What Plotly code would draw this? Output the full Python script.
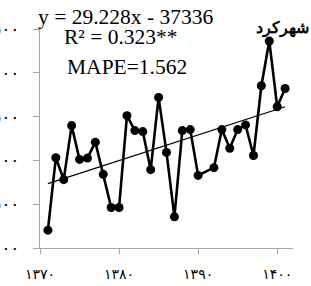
import plotly.graph_objects as go

years = [1371, 1372, 1373, 1374, 1375, 1376, 1377, 1378, 1379, 1380,
         1381, 1382, 1383, 1384, 1385, 1386, 1387, 1388, 1389, 1390,
         1392, 1393, 1394, 1395, 1396, 1397, 1398, 1399, 1400, 1401]
values = [2204, 3030, 2780, 3397, 3011, 3026, 3208, 2841, 2462, 2462,
          3511, 3340, 3329, 2894, 3719, 3091, 2356, 3340, 3352, 2829,
          2917, 3352, 3139, 3352, 3405, 3056, 3852, 4363, 3613, 3821]

slope = 29.228
intercept = -37336
trend_x = [1371, 1401]
trend_y = [slope * x + intercept for x in trend_x]

x_tickvals = [1370, 1380, 1390, 1400]
x_ticktext = ["۱۳۷۰", "۱۳۸۰", "۱۳۹۰", "۱۴۰۰"]
y_tickvals = [2000, 2500, 3000, 3500, 4000, 4500]
y_ticktext = ["۲۰۰۰", "۲۵۰۰", "۳۰۰۰", "۳۵۰۰", "۴۰۰۰", "۴۵۰۰"]

station = "شهرکرد"
eq_text = "y = 29.228x - 37336"
r2_text = "R² = 0.323**"
mape_text = "MAPE=1.562"

serif = "Liberation Serif, Times New Roman, serif"

fig = go.Figure()
fig.add_trace(go.Scatter(
    x=years, y=values, mode="lines+markers",
    line=dict(color="black", width=2.6),
    marker=dict(color="black", size=9),
    showlegend=False, hoverinfo="skip"))
fig.add_trace(go.Scatter(
    x=trend_x, y=trend_y, mode="lines",
    line=dict(color="black", width=1.3),
    showlegend=False, hoverinfo="skip"))

W, H = 311, 286
l, r, t, b = 40, 18, 29, 38
pw, ph = W - l - r, H - t - b


def px(x):
    return (x - l) / pw


def py(y):
    return (H - y - b) / ph


fig.update_layout(
    width=W, height=H,
    margin=dict(l=l, r=r, t=t, b=b),
    plot_bgcolor="white", paper_bgcolor="white",
    font=dict(family=serif, color="black"),
    xaxis=dict(range=[1370, 1402], tickvals=x_tickvals, ticktext=x_ticktext,
               showgrid=False, zeroline=False, showline=True, linecolor="#a6a6a6",
               linewidth=1.3, ticks="outside", ticklen=5, tickcolor="#a6a6a6",
               tickfont=dict(size=14, family="DejaVu Sans"), ticklabelstandoff=8,
               automargin=False),
    yaxis=dict(range=[2000, 4500], tickvals=y_tickvals, ticktext=y_ticktext,
               showgrid=False, zeroline=False, showline=True, linecolor="#a6a6a6",
               linewidth=1.3, ticks="outside", ticklen=6, tickcolor="#a6a6a6",
               tickfont=dict(size=17, family="DejaVu Sans"), ticklabelstandoff=10,
               automargin=False),
    annotations=[
        dict(text=eq_text, x=px(125), y=py(17), xref="paper", yref="paper",
             xanchor="center", yanchor="middle",
             showarrow=False, font=dict(size=21.5, family=serif)),
        dict(text=r2_text, x=px(121), y=py(37), xref="paper", yref="paper",
             xanchor="center", yanchor="middle",
             showarrow=False, font=dict(size=21.5, family=serif)),
        dict(text=mape_text, x=px(127), y=py(67), xref="paper", yref="paper",
             xanchor="center", yanchor="middle",
             showarrow=False, font=dict(size=21.5, family=serif)),
        dict(text="<b>" + station + "</b>", x=px(311), y=py(28), xref="paper", yref="paper",
             xanchor="right", yanchor="middle",
             showarrow=False, font=dict(size=16, family=serif)),
    ],
)

fig.write_html("out.html", config={"displayModeBar": False},
               post_script="document.body.style.margin='0';document.body.style.overflow='hidden';")
